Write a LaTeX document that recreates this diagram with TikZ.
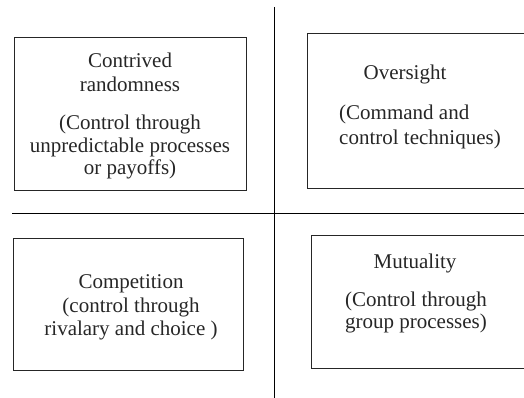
\documentclass[tikz,border=0pt]{standalone}
\usepackage{fontspec}
\setmainfont{Liberation Serif}
\begin{document}
\begin{tikzpicture}[x=1pt,y=-1pt,
  box/.style={draw=black!85,line width=0.7pt},
  axis/.style={draw=black,line width=0.9pt},
  txt/.style={inner sep=0pt,anchor=base,font=\fontsize{21}{23}\selectfont,text=black!85},
  ltxt/.style={txt,anchor=base west}]
\useasboundingbox (0,0) rectangle (524,398);
\clip (0,0) rectangle (524,398);
% quadrant axes
\coordinate (vtop) at (274,7);
\coordinate (vbot) at (274,398);
\coordinate (hl) at (12,213);
\coordinate (hr) at (524,213);
\draw[axis] (vtop) -- (vbot);
\draw[axis] (hl) -- (hr);
% boxes
\draw[box] (14,37) rectangle (246,190);
\draw[box] (307,33) rectangle (560,188);
\draw[box] (13,238) rectangle (243,370);
\draw[box] (311,235) rectangle (560,368);
% top-left
\node[txt] (a1) at (130,68) {Contrived};
\node[txt] (a2) at (130,92) {randomness};
\node[txt] (a3) at (130,130) {(Control through};
\node[txt] (a4) at (130,153) {unpredictable processes};
\node[txt] (a5) at (130,175) {or payoffs)};
% top-right
\node[txt] (b1) at (405,80) {Oversight};
\node[ltxt] (b2) at (339,120) {(Command and};
\node[ltxt] (b3) at (339,145) {control techniques)};
% bottom-left
\node[txt] (c1) at (131,288) {Competition};
\node[txt] (c2) at (131,312) {(control through};
\node[txt] (c3) at (131,335) {rivalary and choice )};
% bottom-right
\node[txt] (d1) at (415,268) {Mutuality};
\node[txt] (d2) at (416,306) {(Control through};
\node[txt] (d3) at (416,328) {group processes)};
\end{tikzpicture}
\end{document}
